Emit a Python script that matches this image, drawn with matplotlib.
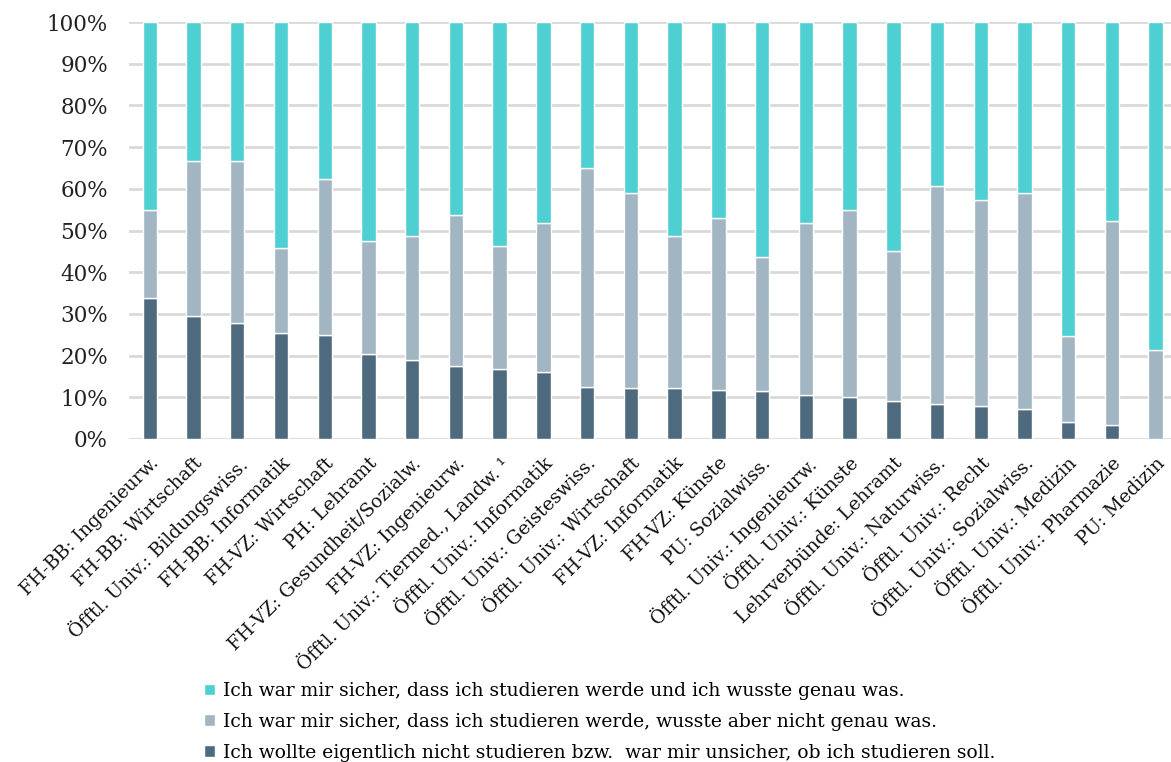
import matplotlib
matplotlib.use("Agg")
import matplotlib.pyplot as plt
import numpy as np

categories = [
    "FH-BB: Ingenieurw.", "FH-BB: Wirtschaft", "Öfftl. Univ.: Bildungswiss.",
    "FH-BB: Informatik", "FH-VZ: Wirtschaft", "PH: Lehramt",
    "FH-VZ: Gesundheit/Sozialw.", "FH-VZ: Ingenieurw.",
    "Öfftl. Univ.: Tiermed., Landw. ¹", "Öfftl. Univ.: Informatik",
    "Öfftl. Univ.: Geisteswiss.", "Öfftl. Univ.: Wirtschaft",
    "FH-VZ: Informatik", "FH-VZ: Künste", "PU: Sozialwiss.",
    "Öfftl. Univ.: Ingenieurw.", "Öfftl. Univ.: Künste",
    "Lehrverbünde: Lehramt", "Öfftl. Univ.: Naturwiss.", "Öfftl. Univ.: Recht",
    "Öfftl. Univ.: Sozialwiss.", "Öfftl. Univ.: Medizin",
    "Öfftl. Univ.: Pharmazie", "PU: Medizin",
]

# share (%) "wollte eigentlich nicht studieren / unsicher"
unsure = [33.7, 29.4, 27.7, 25.4, 25.0, 20.4, 19.0, 17.5, 16.8, 16.1, 12.4, 12.3,
          12.3, 11.8, 11.4, 10.6, 10.1, 9.1, 8.3, 8.0, 7.1, 4.0, 3.4, 0.0]
# share (%) "sicher studieren, aber nicht genau was"
not_what = [21.3, 37.2, 38.9, 20.3, 37.3, 27.0, 29.8, 36.1, 29.4, 35.7, 52.5, 46.6,
            36.5, 41.3, 32.2, 41.3, 44.7, 35.9, 52.3, 49.4, 51.8, 20.6, 48.8, 21.4]
# share (%) "sicher studieren und genau was"
sure = [45.0, 33.4, 33.4, 54.3, 37.7, 52.6, 51.2, 46.4, 53.8, 48.2, 35.1, 41.1,
        51.2, 46.9, 56.4, 48.1, 45.2, 55.0, 39.4, 42.6, 41.1, 75.4, 47.8, 78.6]

labels = [
    "Ich war mir sicher, dass ich studieren werde und ich wusste genau was.",
    "Ich war mir sicher, dass ich studieren werde, wusste aber nicht genau was.",
    "Ich wollte eigentlich nicht studieren bzw.  war mir unsicher, ob ich studieren soll.",
]

c_sure = "#4ECFD2"
c_mid = "#A1B5C3"
c_dark = "#4E6A7E"

fig = plt.figure(figsize=(11.71, 7.62), dpi=100)
ax = fig.add_axes([0.110, 0.424, 0.890, 0.547])

x = np.arange(len(categories))
w = 0.33
b1 = ax.bar(x, unsure, w, color=c_dark, edgecolor="white", linewidth=1, zorder=3)
b2 = ax.bar(x, not_what, w, bottom=unsure, color=c_mid, edgecolor="white",
            linewidth=1, zorder=3)
base = np.array(unsure) + np.array(not_what)
b3 = ax.bar(x, sure, w, bottom=base, color=c_sure, edgecolor="white",
            linewidth=1, zorder=3)

ax.set_ylim(0, 100)
ax.set_xlim(-0.48, 23.35)
ax.set_yticks(np.arange(0, 101, 10))
ax.set_yticklabels([f"{v}%" for v in range(0, 101, 10)],
                   family="DejaVu Serif", fontsize=15.5, color="#222222")
ax.yaxis.grid(True, color="#D9D9D9", linewidth=2, zorder=0)
ax.set_axisbelow(True)
ax.tick_params(axis="both", length=0)
ax.tick_params(axis="y", pad=15)
for s in ax.spines.values():
    s.set_visible(False)

ax.set_xticks(x)
ax.set_xticklabels(categories, rotation=45, ha="right", rotation_mode="anchor",
                   family="DejaVu Serif", fontsize=13.5, color="#111111")
ax.tick_params(axis="x", pad=11)

fig.legend([b3, b2, b1], labels, loc="upper left", bbox_to_anchor=(0.160, 0.127),
           frameon=False, ncol=1, handlelength=0.6, handleheight=0.6,
           handletextpad=0.4, labelspacing=0.68,
           prop={"family": "DejaVu Serif", "size": 13.5})

fig.savefig("out.png", dpi=100)
